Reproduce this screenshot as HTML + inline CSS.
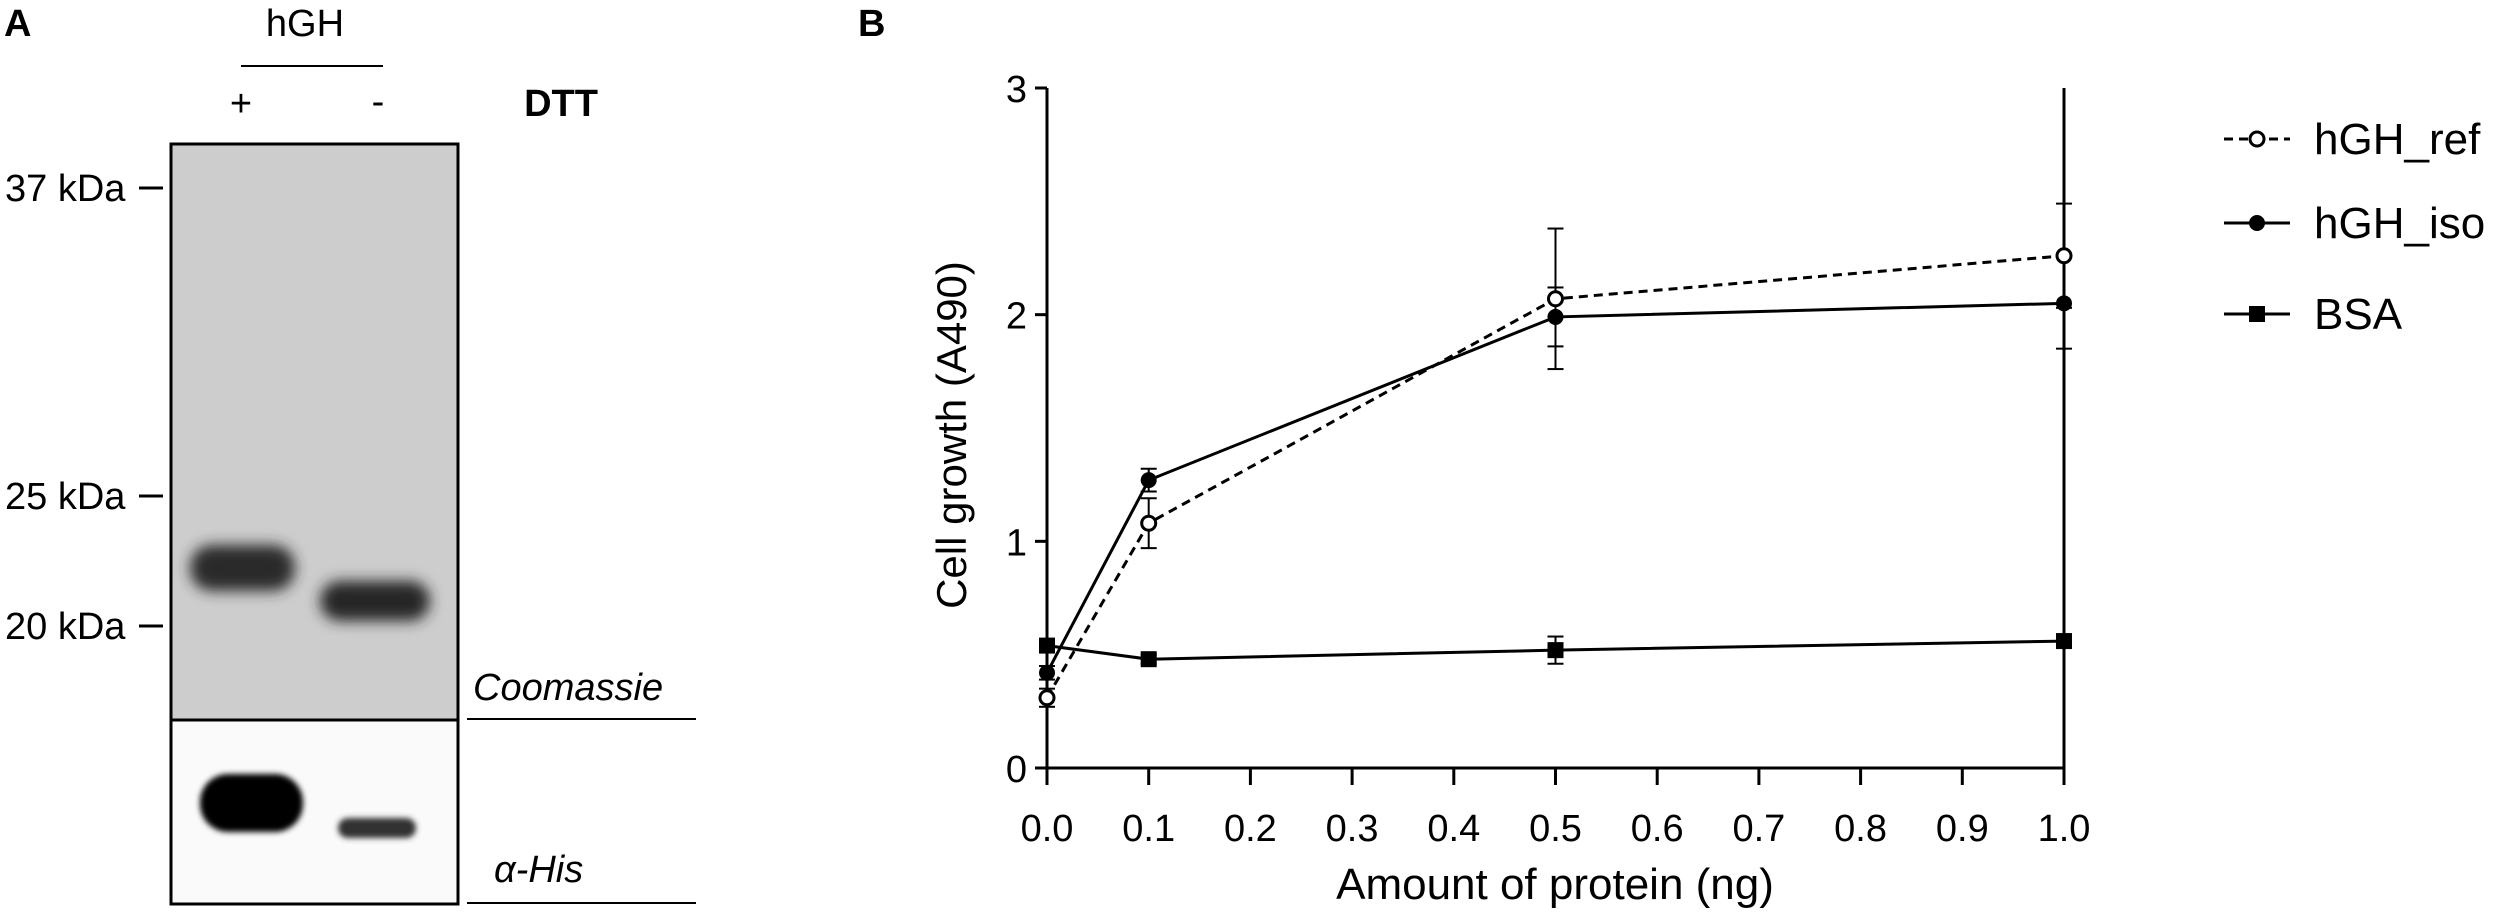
<!DOCTYPE html>
<html><head><meta charset="utf-8"><style>
html,body{margin:0;padding:0;background:#fff;}
svg{display:block;font-family:"Liberation Sans",sans-serif;}
</style></head><body>
<svg width="2500" height="919" viewBox="0 0 2500 919" xmlns="http://www.w3.org/2000/svg">
<defs>
<filter id="blur" x="-20%" y="-50%" width="140%" height="200%"><feGaussianBlur stdDeviation="7"/></filter>
<filter id="blur2" x="-20%" y="-50%" width="140%" height="200%"><feGaussianBlur stdDeviation="3"/></filter>
</defs>
<g>
<text x="4" y="36" font-size="38" font-weight="bold">A</text>
<text x="305" y="36" font-size="38" text-anchor="middle">hGH</text>
<line x1="241" y1="66" x2="383" y2="66" stroke="#000" stroke-width="2"/>
<text x="241" y="116" font-size="38" text-anchor="middle">+</text>
<text x="378" y="114" font-size="38" text-anchor="middle">-</text>
<text x="561" y="116" font-size="38" font-weight="bold" text-anchor="middle">DTT</text>
<rect x="171" y="144" width="287" height="576" fill="#cdcdcd" stroke="#000" stroke-width="3"/>
<rect x="171" y="720" width="287" height="184" fill="#fafafa" stroke="#000" stroke-width="3"/>
<rect x="190" y="545" width="105" height="46" rx="22" fill="#2a2a2a" filter="url(#blur)"/>
<rect x="320" y="581" width="110" height="40" rx="20" fill="#262626" filter="url(#blur)"/>
<rect x="200" y="774" width="103" height="58" rx="28" fill="#050505" filter="url(#blur2)"/>
<rect x="338" y="818" width="78" height="20" rx="10" fill="#333" filter="url(#blur2)"/>
<g font-size="38">
<text x="5" y="201">37 kDa</text>
<line x1="139" y1="188" x2="163" y2="188" stroke="#000" stroke-width="3"/>
<text x="5" y="509">25 kDa</text>
<line x1="139" y1="496" x2="163" y2="496" stroke="#000" stroke-width="3"/>
<text x="5" y="639">20 kDa</text>
<line x1="139" y1="626" x2="163" y2="626" stroke="#000" stroke-width="3"/>
</g>
<text x="473" y="700" font-size="38" font-style="italic">Coomassie</text>
<line x1="467" y1="719" x2="696" y2="719" stroke="#000" stroke-width="2"/>
<text x="494" y="882" font-size="38" font-style="italic">α-His</text>
<line x1="467" y1="903" x2="696" y2="903" stroke="#000" stroke-width="2"/>
</g>
<text x="858" y="36" font-size="38" font-weight="bold">B</text>
<g id="chart"></g>
</svg>
<script>
const xValues = [0, 0.1, 0.5, 1.0];
const refValues = [0.31, 1.08, 2.07, 2.26];
const refErrors = [0.04, 0.11, 0.31, 0.23];
const isoValues = [0.42, 1.27, 1.99, 2.05];
const isoErrors = [0.03, 0.05, 0.13, 0.2];
const bsaValues = [0.54, 0.48, 0.52, 0.56];
const bsaErrors = [0.02, 0.02, 0.06, 0.02];
const xTicks = ["0.0","0.1","0.2","0.3","0.4","0.5","0.6","0.7","0.8","0.9","1.0"];
const yTicks = ["0","1","2","3"];

const NS = "http://www.w3.org/2000/svg";
const X0 = 1047, X1 = 2064, Y0 = 768, Y1 = 88;
function sx(v){ return X0 + v * (X1 - X0); }
function sy(v){ return Y0 - v / 3 * (Y0 - Y1); }
const g = document.getElementById('chart');
function mk(tag, attrs, parent){
  const e = document.createElementNS(NS, tag);
  for (const k in attrs) e.setAttribute(k, attrs[k]);
  (parent || g).appendChild(e);
  return e;
}
let ax = mk('line', {x1:X0,y1:Y1,x2:X0,y2:Y0,stroke:'#000','stroke-width':3});


ax = mk('line', {x1:X0,y1:Y0,x2:X1,y2:Y0,stroke:'#000','stroke-width':3});


ax = mk('line', {x1:X1,y1:Y1,x2:X1,y2:Y0,stroke:'#000','stroke-width':3});


yTicks.forEach(t => {
  const y = sy(parseFloat(t));
  mk('line', {x1:X0-12,y1:y,x2:X0,y2:y,stroke:'#000','stroke-width':3});
  const tx = mk('text', {x:X0-20,y:y+14,'font-size':38,'text-anchor':'end'});
  tx.textContent = t;
  
  
});
xTicks.forEach(t => {
  const x = sx(parseFloat(t));
  mk('line', {x1:x,y1:Y0,x2:x,y2:Y0+17,stroke:'#000','stroke-width':3});
  const tx = mk('text', {x:x,y:841,'font-size':38,'text-anchor':'middle'});
  tx.textContent = t;
  
  
});
let tt = mk('text', {x:1555,y:899,'font-size':44,'text-anchor':'middle'});
tt.textContent = 'Amount of protein (ng)';


tt = mk('text', {x:0,y:0,'font-size':42,'text-anchor':'middle',transform:'translate(966,435) rotate(-90)'});
tt.textContent = 'Cell growth (A490)';



function series(name, vals, errs, dash, marker){
  const sg = mk('g', {});
  
  
  vals.forEach((v,i) => {
    const x = sx(xValues[i]);
    mk('line', {x1:x,y1:sy(v+errs[i]),x2:x,y2:sy(v-errs[i]),stroke:'#000','stroke-width':2}, sg);
    mk('line', {x1:x-8,y1:sy(v+errs[i]),x2:x+8,y2:sy(v+errs[i]),stroke:'#000','stroke-width':2}, sg);
    mk('line', {x1:x-8,y1:sy(v-errs[i]),x2:x+8,y2:sy(v-errs[i]),stroke:'#000','stroke-width':2}, sg);
  });
  const pts = vals.map((v,i) => sx(xValues[i]) + ',' + sy(v)).join(' ');
  const pl = mk('polyline', {points:pts,fill:'none',stroke:'#000','stroke-width':3,'stroke-dasharray':dash}, sg);
  
  
  vals.forEach((v,i) => {
    const x = sx(xValues[i]), y = sy(v);
    let m;
    if (marker === 'open') m = mk('circle', {cx:x,cy:y,r:7,fill:'#fff',stroke:'#000','stroke-width':3}, sg);
    else if (marker === 'filled') m = mk('circle', {cx:x,cy:y,r:8,fill:'#000'}, sg);
    else m = mk('rect', {x:x-8,y:y-8,width:16,height:16,fill:'#000'}, sg);
    
    
  });
}
series('bsa', bsaValues, bsaErrors, 'none', 'square');
series('hgh-iso', isoValues, isoErrors, 'none', 'filled');
series('hgh-ref', refValues, refErrors, '9,6', 'open');

const legend = [['hGH_ref','9,6','open',139],['hGH_iso','none','filled',223],['BSA','none','square',314]];
legend.forEach(l => {
  const lg = mk('g', {});
  
  
  const y = l[3];
  mk('line', {x1:2224,y1:y,x2:2290,y2:y,stroke:'#000','stroke-width':3,'stroke-dasharray':l[1]}, lg);
  if (l[2]==='open') mk('circle', {cx:2257,cy:y,r:7,fill:'#fff',stroke:'#000','stroke-width':3}, lg);
  else if (l[2]==='filled') mk('circle', {cx:2257,cy:y,r:8,fill:'#000'}, lg);
  else mk('rect', {x:2249,y:y-8,width:16,height:16,fill:'#000'}, lg);
  const t = mk('text', {x:2314,y:y+15,'font-size':44}, lg);
  t.textContent = l[0];
});
</script>
</body></html>
